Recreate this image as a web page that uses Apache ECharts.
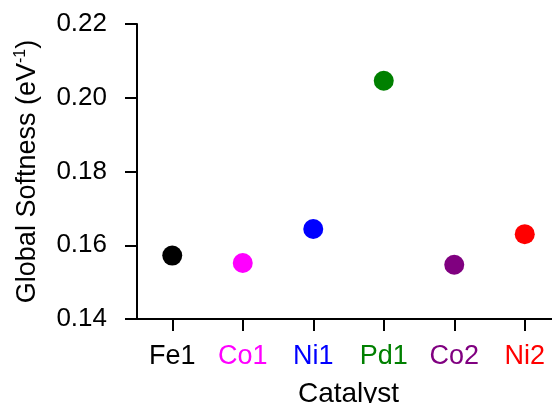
<!DOCTYPE html>
<html><head><meta charset="utf-8">
<script src="https://cdn.jsdelivr.net/npm/echarts@6/dist/echarts.min.js"></script>
<style>html,body{margin:0;padding:0;background:#fff}#c{width:552px;height:403px}</style>
</head><body><div id="c"></div>
<script>
const categories = ['Fe1', 'Co1', 'Ni1', 'Pd1', 'Co2', 'Ni2'];
const softness = [0.1572, 0.1552, 0.1644, 0.2046, 0.1547, 0.1630];
const colors = ['#000000', '#ff00ff', '#0000ff', '#008000', '#800080', '#ff0000'];
const yTicks = [0.14, 0.16, 0.18, 0.20, 0.22];

const FONT = '"Liberation Sans", Arial, Helvetica, sans-serif';
const chart = echarts.init(document.getElementById('c'), null, {renderer: 'canvas'});
chart.setOption({
  animation: false,
  backgroundColor: '#ffffff',
  grid: {left: 137, top: 24, bottom: 84, right: -8, containLabel: false, outerBoundsMode: 'none'},
  xAxis: {
    type: 'category',
    data: categories.map((c, i) => ({value: c, textStyle: {color: colors[i]}})),
    boundaryGap: true,
    axisLine: {show: true, lineStyle: {color: '#000', width: 2}},
    axisTick: {show: true, alignWithLabel: true, inside: false, length: 12, lineStyle: {color: '#000', width: 2}},
    axisLabel: {fontFamily: FONT, fontSize: 27, margin: 24, interval: 0},
    name: 'Catalyst',
    nameLocation: 'middle',
    nameGap: 61,
    nameTextStyle: {fontFamily: FONT, fontSize: 28, color: '#000'}
  },
  yAxis: {
    type: 'value',
    min: yTicks[0],
    max: yTicks[yTicks.length - 1],
    interval: 0.02,
    splitLine: {show: false},
    axisLine: {show: true, lineStyle: {color: '#000', width: 2}},
    axisTick: {show: true, inside: false, length: 12, lineStyle: {color: '#000', width: 2}},
    axisLabel: {fontFamily: FONT, fontSize: 26, color: '#000', margin: 30,
      formatter: v => v.toFixed(2)},
    name: '{a|Global Softness (eV}{s|-1}{a|)}',
    nameLocation: 'middle',
    nameGap: 94,
    nameTextStyle: {
      fontFamily: FONT, fontSize: 27, color: '#000',
      rich: {
        a: {fontFamily: FONT, fontSize: 27, color: '#000'},
        s: {fontFamily: FONT, fontSize: 16, color: '#000', padding: [0, 0, 14, 0]}
      }
    }
  },
  series: [{
    type: 'scatter',
    symbol: 'circle',
    symbolSize: 20,
    itemStyle: {opacity: 1},
    data: softness.map((v, i) => ({value: v, itemStyle: {color: colors[i], opacity: 1}}))
  }]
});
</script>
</body></html>
